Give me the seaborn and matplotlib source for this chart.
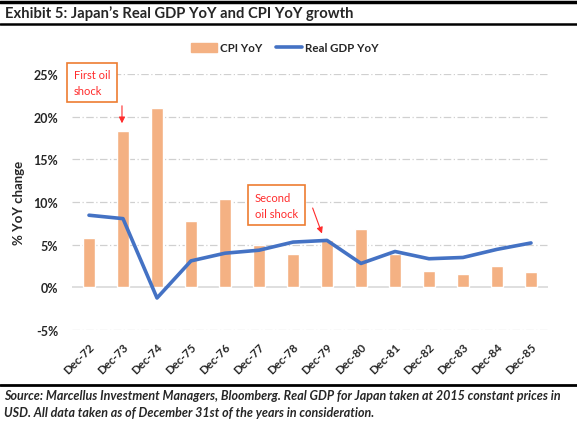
import matplotlib
matplotlib.use("Agg")
import matplotlib.pyplot as plt
import seaborn as sns
import numpy as np
from matplotlib.lines import Line2D
from matplotlib.patches import Patch

years = ["Dec-72", "Dec-73", "Dec-74", "Dec-75", "Dec-76", "Dec-77", "Dec-78",
         "Dec-79", "Dec-80", "Dec-81", "Dec-82", "Dec-83", "Dec-84", "Dec-85"]
cpi_yoy = [5.75, 18.3, 21.0, 7.75, 10.4, 5.0, 3.9, 5.5, 6.85, 3.85, 1.9, 1.6, 2.55, 1.85]
gdp_yoy = [8.45, 8.05, -1.25, 3.1, 4.0, 4.35, 5.3, 5.5, 2.8, 4.2, 3.35, 3.5, 4.45, 5.2]

BAR = "#F4B183"
LINE = "#4472C4"
RED = "#FF2B2B"
BOX = "#ED7D31"

sns.set_theme(style="white")
plt.rcParams["font.family"] = ["Lato", "DejaVu Sans"]

fig = plt.figure(figsize=(5.77, 4.27), dpi=100)
ax = fig.add_axes([72 / 577, 1 - 331 / 427, 476 / 577, 256 / 427])

sns.barplot(x=years, y=cpi_yoy, color=BAR, width=0.38, saturation=1, ax=ax, zorder=2)
sns.lineplot(x=np.arange(len(years)), y=gdp_yoy, color=LINE, linewidth=2.6, ax=ax, zorder=3)

ax.set_xlim(-0.5, len(years) - 0.5)
ax.set_ylim(-5, 25)
ax.set_yticks(range(-5, 26, 5))
ax.set_yticklabels([f"{v}%" for v in range(-5, 26, 5)], fontsize=9, fontweight="bold")
for v in range(-5, 26, 5):
    if v != 0:
        ax.axhline(v, color="#D0D0D0", lw=0.9, ls=(0, (6, 2, 1, 2)), zorder=0)
ax.axhline(0, color="#D9D9D9", lw=1.2, zorder=1)
ax.set_xticks(range(len(years)))
ax.set_xticklabels(years, rotation=45, ha="right", rotation_mode="anchor",
                   fontsize=8.3, fontweight="bold")
ax.tick_params(axis="y", length=0, pad=10)
ax.tick_params(axis="x", length=0, pad=8)
for s in ax.spines.values():
    s.set_visible(False)
ax.set_ylabel("% YoY change", fontsize=9.5, fontweight="bold", labelpad=6)

# annotations
ax.text(-0.45, 24.0, "First oil\nshock", color=RED, fontsize=8, va="center", ha="left",
        linespacing=1.5, clip_on=False,
        bbox=dict(boxstyle="square,pad=0.6", fc="white", ec=BOX, lw=1.2))
ax.annotate("", xy=(0.97, 18.9), xytext=(0.97, 21.6),
            arrowprops=dict(arrowstyle="-|>", color=RED, lw=0.8, mutation_scale=9))
ax.text(4.88, 9.6, "Second\noil shock", color=RED, fontsize=8, va="center", ha="left",
        linespacing=1.5,
        bbox=dict(boxstyle="square,pad=0.6", fc="white", ec=BOX, lw=1.2), zorder=5)
ax.annotate("", xy=(6.88, 6.0), xytext=(6.55, 9.6),
            arrowprops=dict(arrowstyle="-|>", color=RED, lw=0.8, mutation_scale=9))

handles = [Patch(color=BAR), Line2D([0], [0], color=LINE, lw=2.6)]
fig.legend(handles, ["CPI YoY", "Real GDP YoY"], loc="center",
           bbox_to_anchor=(285 / 577, 1 - 49 / 427), ncol=2, frameon=False,
           prop=dict(size=8.3, weight="bold"), handlelength=2.2, columnspacing=1.2,
           handletextpad=0.3)

# header / footer
fig.add_artist(Line2D([0, 1], [1 - 3 / 427] * 2, color="black", lw=2.5))
fig.add_artist(Line2D([0, 1], [1 - 25 / 427] * 2, color="black", lw=1.8))
fig.text(5 / 577, 1 - 14 / 427, "Exhibit 5: Japan\u2019s Real GDP YoY and CPI YoY growth",
         fontsize=10.6, fontweight="bold", va="center", ha="left")
fig.add_artist(Line2D([0, 1], [1 - 386 / 427] * 2, color="black", lw=2.0))
fig.text(4 / 577, 1 - 396 / 427,
         "Source: Marcellus Investment Managers, Bloomberg. Real GDP for Japan taken at 2015 constant prices in",
         fontsize=9.0, fontstyle="italic", fontweight="bold", va="center", ha="left")
fig.text(4 / 577, 1 - 413 / 427,
         "USD. All data taken as of December 31st of the years in consideration.",
         fontsize=9.0, fontstyle="italic", fontweight="bold", va="center", ha="left")

fig.savefig("out.png", dpi=100)
